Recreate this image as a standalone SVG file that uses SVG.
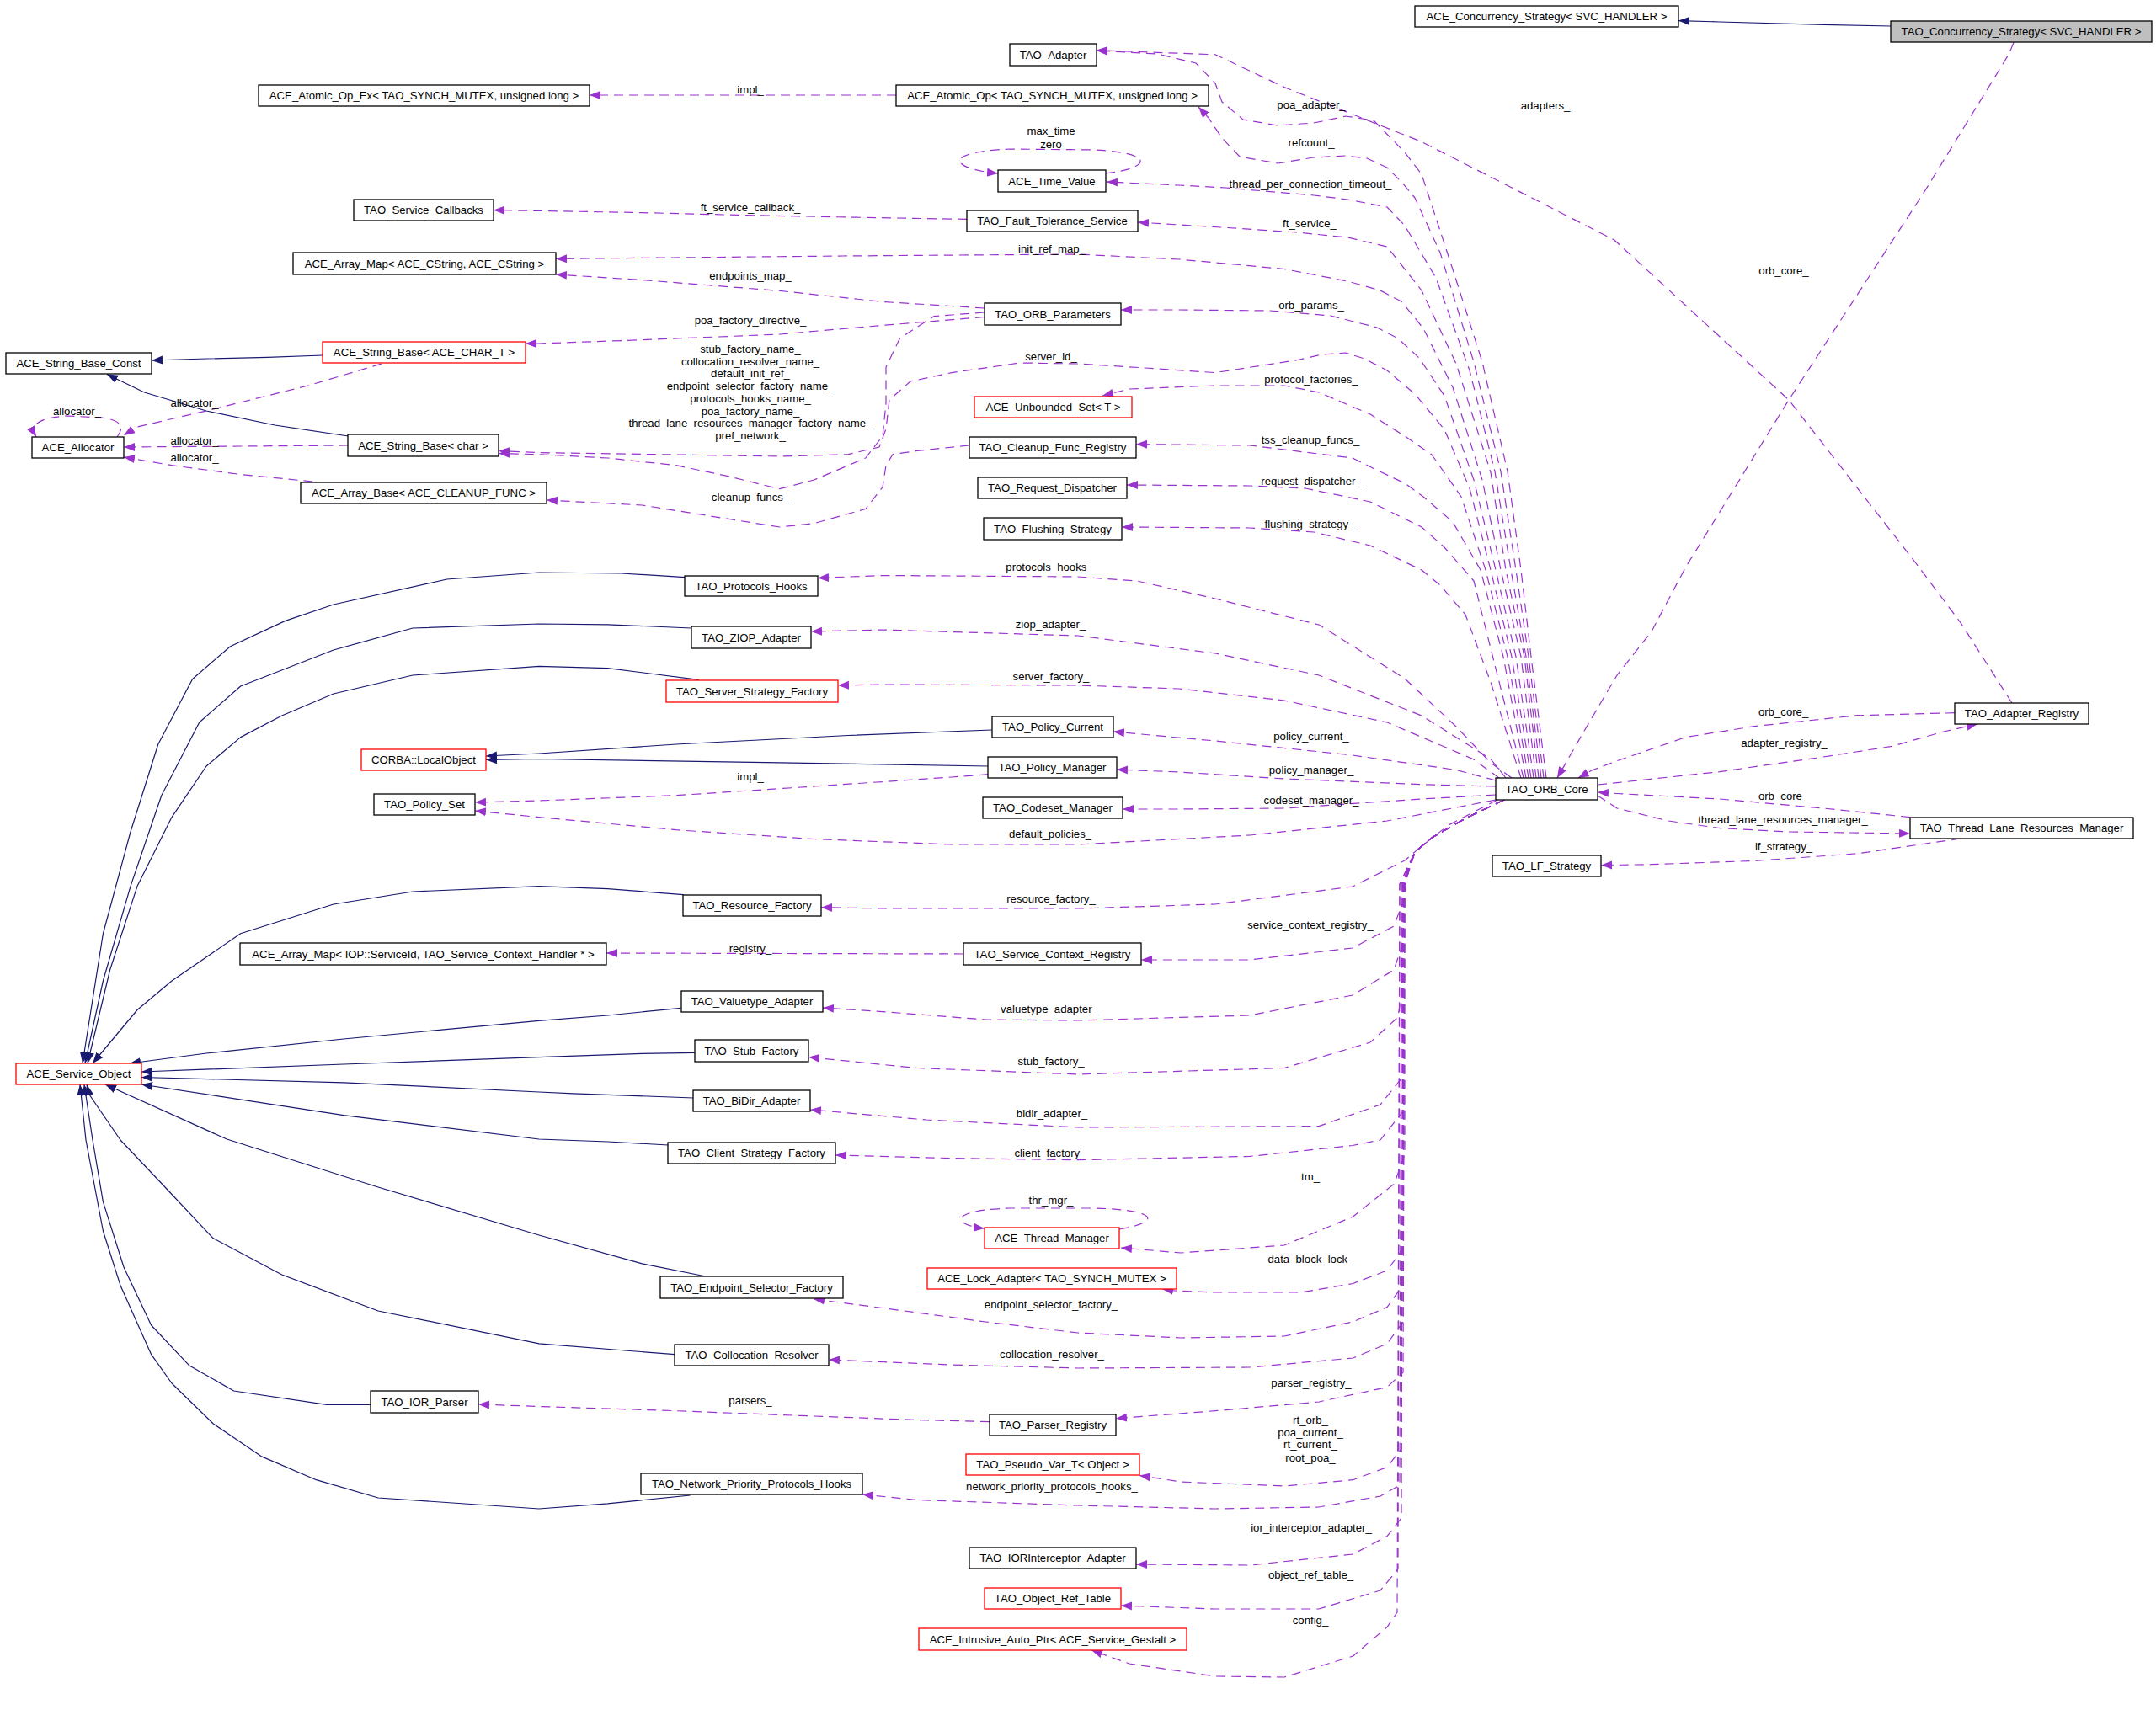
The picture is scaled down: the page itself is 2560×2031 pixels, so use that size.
<svg xmlns="http://www.w3.org/2000/svg" width="2560" height="2031" viewBox="0 0 2560 2031">
<style>
.n rect{fill:#fff;stroke:#000;stroke-width:1.3}
.n.r rect{stroke:#ff0000}
.n.g rect{fill:#bfbfbf}
text{font-family:"Liberation Sans",Arial,sans-serif;font-size:13.2px;fill:#000;text-anchor:middle}
.inh{fill:none;stroke:#191970;stroke-width:1.2;stroke-linejoin:round;marker-end:url(#ai)}
.col{fill:none;stroke:#9a32cd;stroke-width:1.2;stroke-dasharray:11 7;stroke-linejoin:round;marker-end:url(#ac)}
</style>
<defs>
<marker id="ai" markerWidth="14" markerHeight="12" refX="13" refY="5.5" orient="auto" markerUnits="userSpaceOnUse"><path d="M0,0.5 L13,5.5 L0,10.5 z" fill="#191970"/></marker>
<marker id="ac" markerWidth="14" markerHeight="12" refX="13" refY="5.5" orient="auto" markerUnits="userSpaceOnUse"><path d="M0,0.5 L13,5.5 L0,10.5 z" fill="#9a32cd"/></marker>
</defs>
<rect width="2560" height="2031" fill="#fff"/>
<g id="edges">
<path class="inh" d="M2245,31 L2165,29.4 L2042,26 L1993,24.6"/>
<path class="inh" d="M383,422 L318,424.4 L245,426 L180,428"/>
<path class="inh" d="M413.5,518 L326.5,505 L245,488 L171.4,466 L127,444.5"/>
<path class="inh" d="M1177.6,867 L1007,873.5 L803,884 L640,895 L577,898"/>
<path class="inh" d="M1173.5,910 L925.7,905.8 L640,901.5 L577,902.5"/>
<path class="inh" d="M813.5,685.6 L738,681 L640,680 L530.6,688 L396,718 L338.8,737.4 L273.5,767.7 L228.6,806.5 L187.8,884 L155,988 L122.4,1109 L98,1263"/>
<path class="inh" d="M821,746 L721.6,741.8 L640,741 L490,746 L396,772 L285.7,815 L236.7,858 L191.8,944.7 L155,1052.6 L122.4,1165 L101,1263"/>
<path class="inh" d="M829.8,807.4 L721.6,793.6 L640,791.4 L490,802 L396,824 L334.7,850 L285.7,875.6 L245,910 L204,970.6 L163,1052.6 L130.6,1152 L104,1263"/>
<path class="inh" d="M811.4,1062.6 L721.6,1055.7 L640,1052.6 L490,1059 L396,1074 L285.7,1108.8 L204,1165 L163,1199.5 L110,1263"/>
<path class="inh" d="M808.6,1197.3 L721.6,1206 L640,1212.4 L408,1234 L245,1251 L154,1263"/>
<path class="inh" d="M825.3,1250.4 L762.4,1251.3 L640,1255.6 L408,1264 L168,1273"/>
<path class="inh" d="M823.3,1304 L680.8,1298.8 L640,1297 L408,1285.8 L168,1279.5"/>
<path class="inh" d="M793.5,1360 L721.6,1356 L640,1353 L408,1324.7 L168,1288"/>
<path class="inh" d="M838,1516 L762.4,1500.8 L640,1467 L449,1410 L269.4,1353 L125,1288"/>
<path class="inh" d="M801,1608.7 L640,1595.8 L449,1557 L334.7,1514 L253,1470.6 L196,1410 L143,1354 L106,1300 L103,1288"/>
<path class="inh" d="M440,1668.3 L387.8,1668.3 L277.6,1652 L224.5,1621.7 L179.6,1574 L147,1505 L122.4,1427.4 L110,1354 L100,1288"/>
<path class="inh" d="M819.6,1776 L721.6,1785.8 L640,1792 L449,1779 L375.5,1757.7 L310,1729.6 L253,1690.8 L204,1643 L179.6,1608.7 L143,1526.7 L122.4,1462 L102,1354 L95,1288"/>
<path class="col" d="M1064,113 L700,113"/>
<path class="col" d="M1836,924 L1818,780 L1806,677 L1790,560 L1760,430 L1725,320 L1688,207 L1668,181 L1631,143 L1598,138 L1560,146 L1517,149 L1476,142 L1451,121 L1443,99 L1420,75 L1374,64 L1302,60"/>
<path class="col" d="M1833,924 L1815,780 L1800,677 L1782,560 L1750,430 L1710,300 L1680,235 L1664,216 L1647,199 L1623,188 L1598,185 L1560,187 L1517,194 L1472,186 L1451,164 L1435,140 L1423,127"/>
<path class="col" d="M1830,924 L1812,780 L1794,677 L1775,560 L1745,440 L1705,330 L1668,268 L1647,246 L1600,237 L1560,232 L1455,223 L1400,220 L1314,216"/>
<path class="col" d="M1827,924 L1810,780 L1788,677 L1770,561 L1729,432 L1688,345 L1647,293 L1600,282 L1540,276 L1450,270 L1351,264"/>
<path class="col" d="M1824,924 L1806,780 L1782,677 L1760,570 L1725,460 L1690,390 L1664,358 L1639,345 L1600,334 L1525,319.5 L1400,308 L1280,302 L1000,304 L800,306 L660,307.4"/>
<path class="col" d="M1821,924 L1800,780 L1776,677 L1750,570 L1715,470 L1685,425 L1660,402 L1635,389 L1580,375 L1508,369 L1400,368 L1331,368"/>
<path class="col" d="M1818,924 L1795,780 L1770,677 L1745,580 L1715,510 L1680,468 L1647,440 L1620,426 L1598,419 L1570,421 L1541,427.5 L1443,442.6 L1360,437 L1280,432 L1211,431 L1130,442.6 L1081,453 L1056,475 L1052,509.5 L1044,531 L1007,539.7 L926,542 L803,540 L640,537.6 L592,535.5"/>
<path class="col" d="M1815,924 L1790,780 L1764,677 L1735,590 L1700,540 L1668,518 L1627,492 L1566,466 L1525,458 L1443,458 L1341,462 L1309,470"/>
<path class="col" d="M1812,924 L1785,780 L1758,677 L1725,620 L1690,590 L1668,574 L1630,556 L1606,544 L1484,529 L1349,527.6"/>
<path class="col" d="M1809,924 L1775,790 L1750,690 L1715,650 L1688,626 L1627,596 L1550,580 L1484,577 L1338,576"/>
<path class="col" d="M1806,924 L1770,810 L1740,730 L1710,695 L1688,677 L1627,648 L1560,632 L1484,627 L1332,626"/>
<path class="col" d="M1795,924 L1770,906 L1729,863 L1668,806 L1566,742 L1443,711 L1350,690 L1280,685 L1048,683.5 L971,686.5"/>
<path class="col" d="M1788,924 L1770,901.5 L1688,850 L1566,802 L1443,776 L1280,755 L1048,748 L963,750"/>
<path class="col" d="M1780,924 L1749,901.5 L1647,858 L1525,832 L1400,818 L1280,814 L1048,813 L995,814"/>
<path class="col" d="M1776,927 L1729,914.5 L1606,897 L1443,880 L1322,869"/>
<path class="col" d="M1776,934 L1688,931.7 L1525,925 L1400,917 L1326,914"/>
<path class="col" d="M1776,944 L1688,949 L1525,960 L1400,961 L1333,961"/>
<path class="col" d="M1776,950 L1647,975 L1484,992 L1280,1003 L1130,1003 L966,996.5 L803,985.7 L640,970.6 L564,963"/>
<path class="col" d="M1778,950 L1720,980 L1688,1005 L1668,1022 L1606,1053 L1443,1074 L1280,1079 L1048,1079 L975,1077.7"/>
<path class="col" d="M1786,950 L1740,972 L1700,995 L1680,1012 L1670,1040 L1668,1066 L1655,1100 L1606,1126 L1484,1140 L1355,1140"/>
<path class="col" d="M1786,950 L1740,972 L1700,995 L1680,1012 L1668,1045 L1666,1120 L1655,1152 L1606,1182 L1484,1206 L1280,1212 L1170,1211 L1048,1201.6 L977,1197"/>
<path class="col" d="M1786,950 L1740,972 L1700,995 L1680,1012 L1667,1050 L1664,1180 L1660,1208 L1627,1238 L1525,1268.5 L1280,1276 L1089,1268.5 L960,1255.6"/>
<path class="col" d="M1786,950 L1740,972 L1700,995 L1680,1012 L1665,1050 L1664,1250 L1664,1281 L1639,1312 L1566,1337.6 L1280,1339 L1100,1330 L962,1318"/>
<path class="col" d="M1786,950 L1740,972 L1700,995 L1680,1012 L1666,1050 L1666,1320 L1639,1354 L1606,1360.5 L1484,1373.4 L1280,1377.7 L1130,1375.6 L992,1372"/>
<path class="col" d="M1786,950 L1740,972 L1700,995 L1680,1012 L1668,1050 L1668,1371 L1655.5,1406 L1606.5,1445 L1525,1479 L1402,1488 L1331,1482"/>
<path class="col" d="M1786,950 L1740,972 L1700,995 L1680,1012 L1668,1050 L1666,1483 L1647,1509 L1606.5,1524.5 L1545,1535 L1443,1535 L1395,1533 L1380,1531"/>
<path class="col" d="M1786,950 L1740,972 L1700,995 L1680,1012 L1666,1050 L1666,1526 L1647,1552.6 L1606.5,1570 L1525,1587 L1402,1589 L1280,1583 L1170,1570 L1048,1553.5 L966,1543"/>
<path class="col" d="M1786,950 L1740,972 L1700,995 L1680,1012 L1666,1050 L1666,1570 L1647,1596 L1606.5,1613 L1484,1624 L1280,1625 L1130,1621 L984,1615"/>
<path class="col" d="M1786,950 L1740,972 L1700,995 L1680,1012 L1668,1050 L1666,1630 L1647,1647.6 L1566,1665 L1443,1675.7 L1325,1684.7"/>
<path class="col" d="M1786,950 L1740,972 L1700,995 L1680,1012 L1666,1050 L1664,1721 L1647,1742.6 L1606.5,1757.7 L1525,1765 L1402,1760 L1353,1752.5"/>
<path class="col" d="M1786,950 L1740,972 L1700,995 L1680,1012 L1664,1050 L1662,1764 L1639,1777 L1566,1790 L1443,1792 L1280,1788 L1089,1781.5 L1024,1775"/>
<path class="col" d="M1786,950 L1740,972 L1700,995 L1680,1012 L1666,1050 L1664,1803 L1647,1824.6 L1606.5,1846 L1484,1859 L1349,1858"/>
<path class="col" d="M1786,950 L1740,972 L1700,995 L1680,1012 L1662,1050 L1660,1863.5 L1639,1889 L1566,1911 L1443,1911 L1331,1907"/>
<path class="col" d="M1786,950 L1740,972 L1700,995 L1680,1012 L1662,1050 L1659,1915 L1647,1932.6 L1606.5,1967 L1525,1992 L1443,1991 L1341,1976 L1296,1960"/>
<path class="col" d="M1897,932 L1920,929.6 L2042,916.6 L2165,899 L2246.5,886.4 L2307.8,869 L2348,860"/>
<path class="col" d="M2321,846.7 L2205.7,849.7 L2083,862.7 L2001.6,875.6 L1920,903.7 L1890,915 L1874,924"/>
<path class="col" d="M2268,970.6 L2165,960 L2042,949 L1920,942.5 L1897,941"/>
<path class="col" d="M1897,945 L1920,960 L1981,975 L2042,983.6 L2124,988 L2268,990"/>
<path class="col" d="M2328,996 L2205.7,1013.8 L2083,1022.4 L1961,1026.7 L1901,1027.6"/>
<path class="col" d="M2391,50.5 L2385,64.8 L2287,224.5 L2124,475 L2001.6,673.6 L1961,750 L1920,802 L1880,870 L1849,924"/>
<path class="col" d="M2389,835 L2328,739.6 L2275,669 L2124,475 L1916.7,285 L1688,168.4 L1525,103.6 L1443,64.8 L1321,60.4 L1302,59.6"/>
<path class="col" d="M1313,206 C1365,200 1375,182 1300,178 L1200,177 C1120,180 1125,200 1185,206"/>
<path class="col" d="M1329,1460 C1378,1452 1378,1437 1300,1435 L1200,1435 C1125,1437 1130,1455 1169,1459"/>
<path class="col" d="M1148,260.4 L1007,258 L885,255.6 L762,252.6 L640,250.4 L586,249.6"/>
<path class="col" d="M1169,366 L1048,358.4 L925.7,345.4 L762,332.5 L660,326"/>
<path class="col" d="M1169,376.5 L1048,386.4 L925.7,397 L762,403.7 L640,408 L624,408"/>
<path class="col" d="M1169,371 L1109,375.6 L1068.6,401.6 L1052,436 L1052,479 L1048,518 L1027.8,544 L966.5,570 L925.7,580.7 L864.5,565.6 L803,552.7 L721.6,544 L640,539.7 L592,538.5"/>
<path class="col" d="M1151,529 L1089,535.4 L1060,539.7 L1052,552.7 L1048,578.6 L1027.8,604.5 L966.5,621.7 L925.7,626 L844,613 L762.4,600 L649,594"/>
<path class="col" d="M453,432 L367,457.7 L245,488 L163,507 L147,517"/>
<path class="col" d="M413.5,529 L285.7,530 L147,531"/>
<path class="col" d="M371.4,572 L285.7,563.5 L204,552.7 L147,543"/>
<path class="col" d="M139,519 C150,505 140,498 120,496 L80,494 C45,496 35,505 43,519"/>
<path class="col" d="M1144,1133 L720,1132"/>
<path class="col" d="M1175,1688.6 L1089,1686.5 L966.5,1682 L803,1675.7 L640,1670.5 L568,1668"/>
<path class="col" d="M1173.5,919.7 L1130,923 L966.5,934 L803,944.7 L640,951 L564,953"/>
</g>
<g id="edge-labels">
<text x="891" y="110.5">impl_</text>
<text x="1557" y="128.5">poa_adapter_</text>
<text x="1557" y="173.5">refcount_</text>
<text x="1835" y="130">adapters_</text>
<text x="1248" y="159.5">max_time</text>
<text x="1248" y="175.5">zero</text>
<text x="1556" y="223">thread_per_connection_timeout_</text>
<text x="891" y="250.5">ft_service_callback_</text>
<text x="1555" y="269.5">ft_service_</text>
<text x="1249" y="299.5">init_ref_map_</text>
<text x="2118" y="326">orb_core_</text>
<text x="891" y="331.5">endpoints_map_</text>
<text x="1557" y="367">orb_params_</text>
<text x="891" y="384.5">poa_factory_directive_</text>
<text x="891" y="419"><tspan x="891" y="419">stub_factory_name_</tspan><tspan x="891" y="433.7">collocation_resolver_name_</tspan><tspan x="891" y="448.4">default_init_ref_</tspan><tspan x="891" y="463.1">endpoint_selector_factory_name_</tspan><tspan x="891" y="477.8">protocols_hooks_name_</tspan><tspan x="891" y="492.5">poa_factory_name_</tspan><tspan x="891" y="507.2">thread_lane_resources_manager_factory_name_</tspan><tspan x="891" y="521.9">pref_network_</tspan></text>
<text x="1248" y="427.5">server_id_</text>
<text x="1557" y="455.3">protocol_factories_</text>
<text x="231" y="482.5">allocator_</text>
<text x="91.5" y="492.5">allocator_</text>
<text x="1556" y="527">tss_cleanup_funcs_</text>
<text x="231" y="527.5">allocator_</text>
<text x="231" y="547.5">allocator_</text>
<text x="1557" y="576.2">request_dispatcher_</text>
<text x="891" y="594.5">cleanup_funcs_</text>
<text x="1555" y="627">flushing_strategy_</text>
<text x="1246" y="677.5">protocols_hooks_</text>
<text x="1247.5" y="746.3">ziop_adapter_</text>
<text x="1248" y="808">server_factory_</text>
<text x="2117.6" y="850.3">orb_core_</text>
<text x="1557" y="879.3">policy_current_</text>
<text x="2118.6" y="887">adapter_registry_</text>
<text x="1557" y="919">policy_manager_</text>
<text x="891" y="927.2">impl_</text>
<text x="2117.6" y="950.1">orb_core_</text>
<text x="1557" y="954.5">codeset_manager_</text>
<text x="2117" y="978.1">thread_lane_resources_manager_</text>
<text x="1247" y="995">default_policies_</text>
<text x="2118" y="1010.1">lf_strategy_</text>
<text x="1248" y="1071.5">resource_factory_</text>
<text x="1556" y="1103.3">service_context_registry_</text>
<text x="891" y="1130.5">registry_</text>
<text x="1246" y="1203.1">valuetype_adapter_</text>
<text x="1248" y="1264.5">stub_factory_</text>
<text x="1249" y="1327">bidir_adapter_</text>
<text x="1247" y="1374">client_factory_</text>
<text x="1556" y="1402.1">tm_</text>
<text x="1248" y="1430.2">thr_mgr_</text>
<text x="1556.5" y="1500.1">data_block_lock_</text>
<text x="1248" y="1554.1">endpoint_selector_factory_</text>
<text x="1249" y="1612.5">collocation_resolver_</text>
<text x="1557" y="1647.4">parser_registry_</text>
<text x="891" y="1667.5">parsers_</text>
<text x="1556" y="1691"><tspan x="1556" y="1691">rt_orb_</tspan><tspan x="1556" y="1706.1">poa_current_</tspan><tspan x="1556" y="1720.3">rt_current_</tspan><tspan x="1556" y="1735.5">root_poa_</tspan></text>
<text x="1249" y="1770">network_priority_protocols_hooks_</text>
<text x="1557" y="1819.2">ior_interceptor_adapter_</text>
<text x="1556.5" y="1874.9">object_ref_table_</text>
<text x="1556" y="1928.5">config_</text>
</g>
<g id="n1" class="n"><rect x="1680" y="7" width="313" height="25"/><text x="1836.5" y="24.1">ACE_Concurrency_Strategy&lt; SVC_HANDLER &gt;</text></g>
<g id="n2" class="n g"><rect x="2245" y="25" width="310" height="25"/><text x="2400" y="42.1">TAO_Concurrency_Strategy&lt; SVC_HANDLER &gt;</text></g>
<g id="n3" class="n"><rect x="1199" y="52" width="103" height="26"/><text x="1250.5" y="69.6">TAO_Adapter</text></g>
<g id="n4" class="n"><rect x="307" y="101" width="393" height="25"/><text x="503.5" y="118.1">ACE_Atomic_Op_Ex&lt; TAO_SYNCH_MUTEX, unsigned long &gt;</text></g>
<g id="n5" class="n"><rect x="1064" y="101" width="371" height="25"/><text x="1249.5" y="118.1">ACE_Atomic_Op&lt; TAO_SYNCH_MUTEX, unsigned long &gt;</text></g>
<g id="n6" class="n"><rect x="1185" y="202" width="128" height="26"/><text x="1249" y="219.6">ACE_Time_Value</text></g>
<g id="n7" class="n"><rect x="420" y="237" width="166" height="25"/><text x="503" y="254.1">TAO_Service_Callbacks</text></g>
<g id="n8" class="n"><rect x="1148" y="250" width="203" height="25"/><text x="1249.5" y="267.1">TAO_Fault_Tolerance_Service</text></g>
<g id="n9" class="n"><rect x="348" y="300" width="312" height="26"/><text x="504" y="317.6">ACE_Array_Map&lt; ACE_CString, ACE_CString &gt;</text></g>
<g id="n10" class="n"><rect x="1169" y="360" width="162" height="26"/><text x="1250" y="377.6">TAO_ORB_Parameters</text></g>
<g id="n11" class="n"><rect x="7" y="419" width="173" height="25"/><text x="93.5" y="436.1">ACE_String_Base_Const</text></g>
<g id="n12" class="n r"><rect x="383" y="406" width="241" height="25"/><text x="503.5" y="423.1">ACE_String_Base&lt; ACE_CHAR_T &gt;</text></g>
<g id="n13" class="n r"><rect x="1157" y="471" width="187" height="25"/><text x="1250.5" y="488.1">ACE_Unbounded_Set&lt; T &gt;</text></g>
<g id="n14" class="n"><rect x="38" y="519" width="109" height="25"/><text x="92.5" y="536.1">ACE_Allocator</text></g>
<g id="n15" class="n"><rect x="413" y="516" width="179" height="26"/><text x="502.5" y="533.6">ACE_String_Base&lt; char &gt;</text></g>
<g id="n16" class="n"><rect x="1151" y="519" width="198" height="25"/><text x="1250" y="536.1">TAO_Cleanup_Func_Registry</text></g>
<g id="n17" class="n"><rect x="357" y="573" width="292" height="25"/><text x="503" y="590.1">ACE_Array_Base&lt; ACE_CLEANUP_FUNC &gt;</text></g>
<g id="n18" class="n"><rect x="1161" y="567" width="177" height="25"/><text x="1249.5" y="584.1">TAO_Request_Dispatcher</text></g>
<g id="n19" class="n"><rect x="1168" y="615" width="164" height="26"/><text x="1250" y="632.6">TAO_Flushing_Strategy</text></g>
<g id="n20" class="n"><rect x="813" y="684" width="158" height="24"/><text x="892" y="700.6">TAO_Protocols_Hooks</text></g>
<g id="n21" class="n"><rect x="821" y="744" width="142" height="26"/><text x="892" y="761.6">TAO_ZIOP_Adapter</text></g>
<g id="n22" class="n r"><rect x="791" y="808" width="204" height="26"/><text x="893" y="825.6">TAO_Server_Strategy_Factory</text></g>
<g id="n23" class="n"><rect x="2321" y="835" width="159" height="25"/><text x="2400.5" y="852.1">TAO_Adapter_Registry</text></g>
<g id="n24" class="n"><rect x="1178" y="851" width="144" height="25"/><text x="1250" y="868.1">TAO_Policy_Current</text></g>
<g id="n25" class="n r"><rect x="429" y="890" width="148" height="25"/><text x="503" y="907.1">CORBA::LocalObject</text></g>
<g id="n26" class="n"><rect x="1173" y="899" width="153" height="25"/><text x="1249.5" y="916.1">TAO_Policy_Manager</text></g>
<g id="n27" class="n"><rect x="1776" y="924" width="121" height="26"/><text x="1836.5" y="941.6">TAO_ORB_Core</text></g>
<g id="n28" class="n"><rect x="444" y="943" width="120" height="25"/><text x="504" y="960.1">TAO_Policy_Set</text></g>
<g id="n29" class="n"><rect x="1167" y="947" width="166" height="25"/><text x="1250" y="964.1">TAO_Codeset_Manager</text></g>
<g id="n30" class="n"><rect x="2268" y="971" width="265" height="25"/><text x="2400.5" y="988.1">TAO_Thread_Lane_Resources_Manager</text></g>
<g id="n31" class="n"><rect x="1772" y="1016" width="129" height="25"/><text x="1836.5" y="1033.1">TAO_LF_Strategy</text></g>
<g id="n32" class="n"><rect x="811" y="1063" width="164" height="25"/><text x="893" y="1080.1">TAO_Resource_Factory</text></g>
<g id="n33" class="n"><rect x="285" y="1120" width="435" height="26"/><text x="502.5" y="1137.6">ACE_Array_Map&lt; IOP::ServiceId, TAO_Service_Context_Handler * &gt;</text></g>
<g id="n34" class="n"><rect x="1144" y="1120" width="211" height="26"/><text x="1249.5" y="1137.6">TAO_Service_Context_Registry</text></g>
<g id="n35" class="n"><rect x="809" y="1177" width="168" height="25"/><text x="893" y="1194.1">TAO_Valuetype_Adapter</text></g>
<g id="n36" class="n"><rect x="825" y="1235" width="135" height="26"/><text x="892.5" y="1252.6">TAO_Stub_Factory</text></g>
<g id="n37" class="n r"><rect x="19" y="1263" width="149" height="25"/><text x="93.5" y="1280.1">ACE_Service_Object</text></g>
<g id="n38" class="n"><rect x="823" y="1295" width="139" height="25"/><text x="892.5" y="1312.1">TAO_BiDir_Adapter</text></g>
<g id="n39" class="n"><rect x="793" y="1357" width="199" height="25"/><text x="892.5" y="1374.1">TAO_Client_Strategy_Factory</text></g>
<g id="n40" class="n r"><rect x="1169" y="1458" width="160" height="25"/><text x="1249" y="1475.1">ACE_Thread_Manager</text></g>
<g id="n41" class="n r"><rect x="1101" y="1506" width="296" height="25"/><text x="1249" y="1523.1">ACE_Lock_Adapter&lt; TAO_SYNCH_MUTEX &gt;</text></g>
<g id="n42" class="n"><rect x="784" y="1516" width="217" height="26"/><text x="892.5" y="1533.6">TAO_Endpoint_Selector_Factory</text></g>
<g id="n43" class="n"><rect x="801" y="1597" width="183" height="25"/><text x="892.5" y="1614.1">TAO_Collocation_Resolver</text></g>
<g id="n44" class="n"><rect x="440" y="1652" width="128" height="26"/><text x="504" y="1669.6">TAO_IOR_Parser</text></g>
<g id="n45" class="n"><rect x="1175" y="1680" width="150" height="25"/><text x="1250" y="1697.1">TAO_Parser_Registry</text></g>
<g id="n46" class="n r"><rect x="1147" y="1727" width="206" height="25"/><text x="1250" y="1744.1">TAO_Pseudo_Var_T&lt; Object &gt;</text></g>
<g id="n47" class="n"><rect x="761" y="1750" width="263" height="25"/><text x="892.5" y="1767.1">TAO_Network_Priority_Protocols_Hooks</text></g>
<g id="n48" class="n"><rect x="1151" y="1838" width="198" height="25"/><text x="1250" y="1855.1">TAO_IORInterceptor_Adapter</text></g>
<g id="n49" class="n r"><rect x="1169" y="1886" width="162" height="25"/><text x="1250" y="1903.1">TAO_Object_Ref_Table</text></g>
<g id="n50" class="n r"><rect x="1091" y="1934" width="318" height="26"/><text x="1250" y="1951.6">ACE_Intrusive_Auto_Ptr&lt; ACE_Service_Gestalt &gt;</text></g>
</svg>
